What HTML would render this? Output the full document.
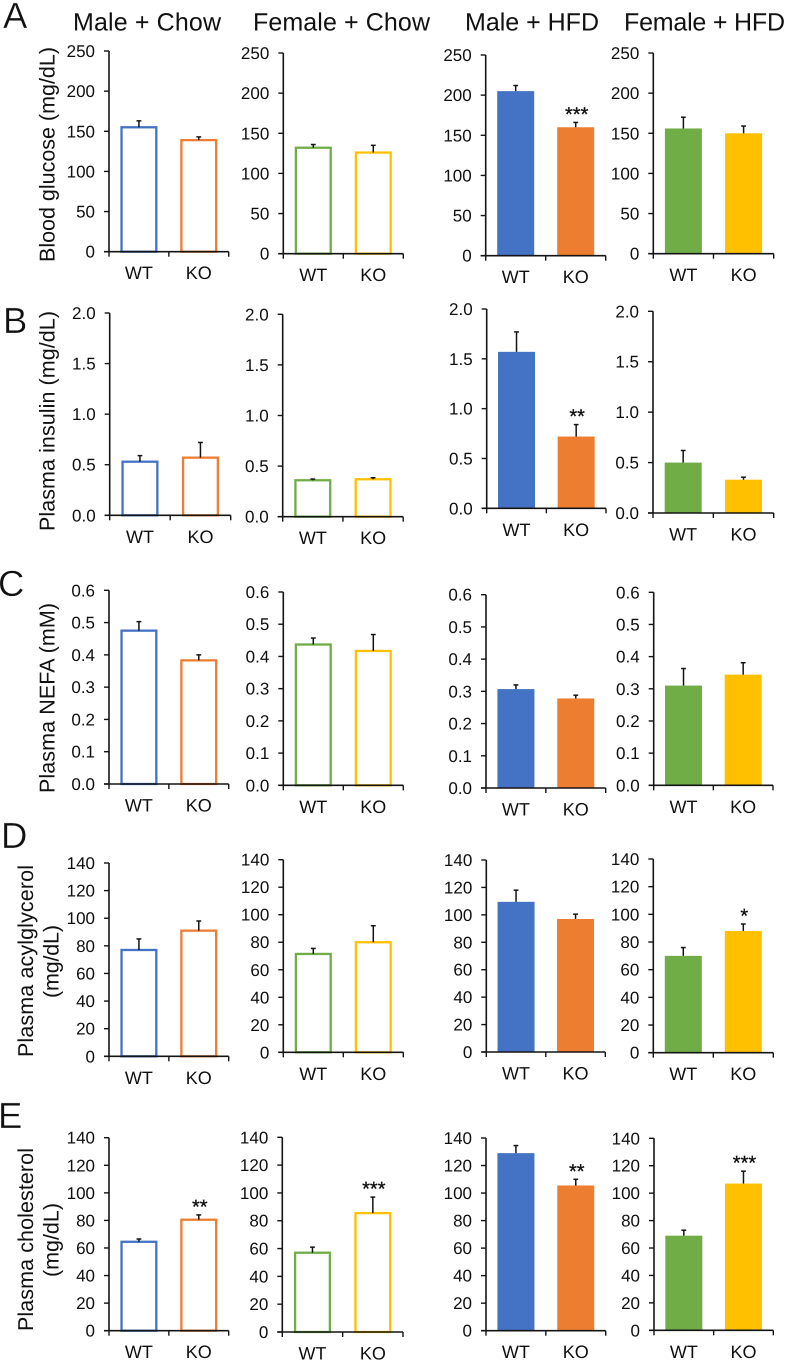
<!DOCTYPE html>
<html lang="en">
<head>
<meta charset="utf-8">
<title>Metabolic parameters in WT and KO mice</title>
<style>
  html, body { margin: 0; padding: 0; background: #fff; }
  svg { display: block; font-family: "Liberation Sans", Arial, sans-serif; text-rendering: geometricPrecision; filter: blur(0.3px); }
  .title { font-size: 25px; fill: #111; }
  .letter { font-size: 36.5px; fill: #111; stroke: #fff; stroke-width: .35px; }
  .ytitle { font-size: 21.5px; fill: #111; }
</style>
</head>
<body>
<svg id="figure" width="787" height="1360" viewBox="0 0 787 1360" xmlns="http://www.w3.org/2000/svg">
  <rect width="787" height="1360" fill="#fff"/>

  <text class="title" x="73" y="30.5" textLength="148">Male + Chow</text>
  <text class="title" x="253" y="30.5" textLength="177">Female + Chow</text>
  <text class="title" x="465" y="30.5" textLength="134">Male + HFD</text>
  <text class="title" x="624" y="30.5" textLength="161">Female + HFD</text>

  <text class="letter" x="3" y="28">A</text>
  <text class="letter" x="3" y="333">B</text>
  <text class="letter" x="-2" y="596">C</text>
  <text class="letter" x="1" y="848">D</text>
  <text class="letter" x="-2" y="1128">E</text>

  <text class="ytitle" transform="translate(54.5 262) rotate(-90)" textLength="215">Blood glucose (mg/dL)</text>
  <text class="ytitle" transform="translate(54.5 531) rotate(-90)" textLength="220">Plasma insulin (mg/dL)</text>
  <text class="ytitle" transform="translate(54.5 793) rotate(-90)" textLength="190">Plasma NEFA (mM)</text>
  <text class="ytitle" transform="translate(33 1057) rotate(-90)" textLength="192">Plasma acylglycerol</text>
  <text class="ytitle" transform="translate(58.5 998) rotate(-90)" textLength="73">(mg/dL)</text>
  <text class="ytitle" transform="translate(33 1331) rotate(-90)" textLength="183">Plasma cholesterol</text>
  <text class="ytitle" transform="translate(58.5 1277) rotate(-90)" textLength="74">(mg/dL)</text>

  <g id="charts"></g>
</svg>

<script>
// ---- data ----
const categories = ['WT', 'KO'];
const conditions = ['male-chow', 'female-chow', 'male-hfd', 'female-hfd'];
const measures = ['glucose', 'insulin', 'nefa', 'acylglycerol', 'cholesterol'];

const glucoseTicks = ['0', '50', '100', '150', '200', '250'];
const insulinTicks = ['0.0', '0.5', '1.0', '1.5', '2.0'];
const nefaTicks = ['0.0', '0.1', '0.2', '0.3', '0.4', '0.5', '0.6'];
const acylglycerolTicks = ['0', '20', '40', '60', '80', '100', '120', '140'];
const cholesterolTicks = ['0', '20', '40', '60', '80', '100', '120', '140'];

const glucoseMeans = [[155, 139], [132, 126], [205, 160], [156, 150]];
const glucoseErrors = [[8, 4], [4, 9], [7, 6], [14, 9]];
const glucoseStars = [['', ''], ['', ''], ['', '***'], ['', '']];

const insulinMeans = [[0.53, 0.57], [0.36, 0.37], [1.57, 0.72], [0.5, 0.33]];
const insulinErrors = [[0.06, 0.15], [0.012, 0.015], [0.2, 0.12], [0.12, 0.025]];
const insulinStars = [['', ''], ['', ''], ['', '**'], ['', '']];

const nefaMeans = [[0.475, 0.383], [0.437, 0.417], [0.307, 0.278], [0.31, 0.344]];
const nefaErrors = [[0.028, 0.017], [0.02, 0.051], [0.013, 0.01], [0.053, 0.037]];
const nefaStars = [['', ''], ['', ''], ['', ''], ['', '']];

const acylglycerolMeans = [[77, 91], [71.5, 80], [109.5, 97], [70, 88]];
const acylglycerolErrors = [[8, 7], [4, 12], [8.5, 3.5], [6, 5]];
const acylglycerolStars = [['', ''], ['', ''], ['', ''], ['', '*']];

const cholesterolMeans = [[64.5, 80.5], [57, 85.5], [129, 105.5], [69, 107]];
const cholesterolErrors = [[2, 3.5], [4, 11.5], [5.5, 4.5], [4, 9]];
const cholesterolStars = [['', '**'], ['', '***'], ['', '**'], ['', '***']];

const tickSets = [glucoseTicks, insulinTicks, nefaTicks, acylglycerolTicks, cholesterolTicks];
const meanSets = [glucoseMeans, insulinMeans, nefaMeans, acylglycerolMeans, cholesterolMeans];
const errorSets = [glucoseErrors, insulinErrors, nefaErrors, acylglycerolErrors, cholesterolErrors];
const starSets = [glucoseStars, insulinStars, nefaStars, acylglycerolStars, cholesterolStars];

// ---- layout (plot frames: left, top, baseline, width) ----
const frames = [
  [[109, 51, 251.7, 119.7], [283.3, 53, 253.7, 120], [485.7, 55, 255.7, 120], [653.3, 53, 253.7, 120.4]],
  [[109.7, 313, 515.3, 121], [282.7, 314.3, 516.7, 120.5], [486.7, 309, 508.3, 119.3], [653, 311.3, 513, 120.7]],
  [[109, 590.3, 784, 119.7], [283.3, 592, 785.3, 120], [486, 594.7, 788, 119.7], [653.7, 592.3, 785.3, 119.3]],
  [[109, 863, 1056.3, 119.7], [283.3, 859.7, 1052.3, 120], [486.3, 860, 1052, 119], [653.3, 859, 1052.7, 120]],
  [[109, 1137.7, 1330.7, 119.7], [282.3, 1137.3, 1332, 120.7], [486, 1138, 1330.7, 119.7], [654, 1138.3, 1330.3, 119.3]]
];
const palette = [['#4472C4', '#ED7D31'], ['#70AD47', '#FFC000'], ['#4472C4', '#ED7D31'], ['#70AD47', '#FFC000']];
const AXIS = '#141414', INK = '#0f0f0f', BAR_W = 37;

const NS = 'http://www.w3.org/2000/svg';
function make(parent, tag, attrs, text) {
  const el = document.createElementNS(NS, tag);
  for (const k in attrs) el.setAttribute(k, attrs[k]);
  if (text !== undefined) el.textContent = text;
  parent.appendChild(el);
  return el;
}
function segment(parent, x1, y1, x2, y2, width) {
  return make(parent, 'line', { x1: x1, y1: y1, x2: x2, y2: y2, stroke: AXIS, 'stroke-width': width });
}

function drawPanel(root, row, col) {
  const [left, top, base, width] = frames[row][col];
  const ticks = tickSets[row];
  const maxV = Number(ticks[ticks.length - 1]);
  const yScale = v => base - (v / maxV) * (base - top);
  const xScale = i => left + width * (i + 0.5) / categories.length;
  const outlined = col < 2;

  const panel = make(root, 'g', {});
  
  

  categories.forEach((cat, i) => {
    const cx = xScale(i);
    const yTop = yScale(meanSets[row][col][i]);
    const color = palette[col][i];
    const bar = outlined
      ? make(panel, 'rect', { x: cx - BAR_W / 2 + 1.1, y: yTop, width: BAR_W - 2.2, height: base - yTop, fill: '#fff', stroke: color, 'stroke-width': 2.3 })
      : make(panel, 'rect', { x: cx - BAR_W / 2, y: yTop, width: BAR_W, height: base - yTop, fill: color });
    
    

    const yErr = yScale(meanSets[row][col][i] + errorSets[row][col][i]);
    const errLine = segment(panel, cx, yTop, cx, yErr, 1.5);
    
    
    const errCap = segment(panel, cx - 2.4, yErr, cx + 2.4, yErr, 1.5);
    
    

    const stars = starSets[row][col][i];
    if (stars) {
      const star = make(panel, 'text', { x: cx + 1, y: yErr - 1.5, 'text-anchor': 'middle', 'font-size': 20, fill: INK, stroke: INK, 'stroke-width': 0.3 }, stars);
      
      
    }

    const label = make(panel, 'text', { x: cx, y: base + 27.5, 'text-anchor': 'middle', 'font-size': 18, fill: INK }, cat);
    
    
  });

  const yAxis = segment(panel, left, top, left, base + 0.6, 1.6);
  
  
  const xAxis = segment(panel, left - 5, base, left + width, base, 1.6);
  
  

  for (let i = 0; i <= categories.length; i++) {
    const tx = left + width * i / categories.length;
    const xTick = segment(panel, tx, base, tx, base + 5, 1.4);
    
    
  }

  ticks.forEach(t => {
    const y = yScale(Number(t));
    const yTick = segment(panel, left - 5, y, left, y, 1.4);
    
    
    const tickLabel = make(panel, 'text', { x: left - 14, y: y + 6, 'text-anchor': 'end', 'font-size': 17, fill: INK }, t);
    
    
  });
}

const chartRoot = document.getElementById('charts');
frames.forEach((rowFrames, row) => rowFrames.forEach((_, col) => drawPanel(chartRoot, row, col)));
</script>
</body>
</html>
